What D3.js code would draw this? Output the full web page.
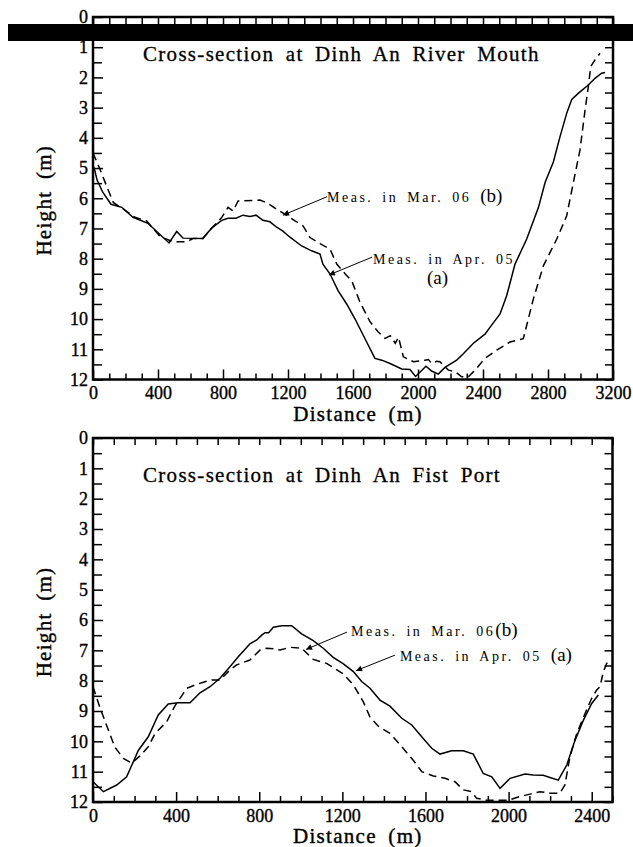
<!DOCTYPE html>
<html>
<head>
<meta charset="utf-8">
<script src="https://cdn.jsdelivr.net/npm/d3@7"></script>
<style>
  html, body { margin: 0; padding: 0; background: #fff; }
  svg { display: block; }
  svg text { font-family: "Liberation Serif", "DejaVu Serif", serif; fill: #000; }
  .tick text { font-size: 18px; stroke: #000; stroke-width: 0.35px; }
  .title { font-size: 21px; letter-spacing: 1.3px; word-spacing: 5px; stroke: #000; stroke-width: 0.3px; }
  .axis-label { font-size: 21px; letter-spacing: 1.3px; word-spacing: 5px; stroke: #000; stroke-width: 0.4px; }
  .note { font-size: 14px; letter-spacing: 2.5px; word-spacing: 3px; }
  .note-tag { font-size: 19px; letter-spacing: 0; word-spacing: 0; }
</style>
</head>
<body>
<svg id="chart" width="633" height="847"></svg>
<script>
// ---- Cross-section at Dinh An River Mouth: [distance (m), height (m)] ----
const mouthApr05 = [
  [0,4.9],[12,5.1],[25,5.4],[60,5.8],[111,6.2],[177,6.3],[246,6.63],[338,6.83],
  [412,7.2],[468,7.48],[515,7.1],[554,7.32],[675,7.33],[730,6.99],[792,6.73],
  [831,6.66],[880,6.66],[923,6.56],[966,6.6],[1003,6.56],[1046,6.73],[1089,6.78],
  [1130,6.96],[1167,7.08],[1212,7.29],[1284,7.58],[1345,7.74],[1397,7.85],
  [1415,8.18],[1458,8.5],[1508,9.06],[1561,9.5],[1612,9.99],[1674,10.65],
  [1735,11.3],[1777,11.36],[1828,11.47],[1900,11.65],[1951,11.67],[1985,11.9],
  [2049,11.56],[2084,11.72],[2125,11.82],[2166,11.6],[2238,11.36],[2279,11.15],
  [2341,10.8],[2412,10.5],[2460,10.15],[2505,9.83],[2546,9.22],[2597,8.18],
  [2669,7.35],[2741,6.31],[2782,5.48],[2833,4.8],[2874,3.96],[2915,3.19],
  [2946,2.73],[2986,2.53],[3048,2.25],[3089,2.03],[3130,1.86],[3151,1.84]
];
const mouthMar06 = [
  [0,4.5],[20,4.75],[43,5.04],[84,5.6],[125,6.14],[187,6.36],[258,6.63],[330,6.75],
  [412,7.26],[492,7.44],[576,7.44],[618,7.33],[677,7.33],[730,6.99],[792,6.64],
  [831,6.3],[862,6.42],[893,6.09],[1028,6.06],[1077,6.17],[1130,6.36],[1182,6.53],
  [1243,6.75],[1292,6.91],[1335,7.3],[1397,7.5],[1458,7.68],[1500,8.18],[1551,8.5],
  [1592,8.73],[1643,9.44],[1705,10.09],[1754,10.42],[1797,10.64],[1830,10.55],
  [1860,10.8],[1880,10.6],[1910,11.25],[1972,11.41],[2043,11.36],[2064,11.34],
  [2084,11.47],[2115,11.4],[2135,11.41],[2187,11.69],[2228,11.74],[2269,11.91],
  [2310,11.91],[2351,11.69],[2412,11.3],[2484,11.03],[2566,10.76],[2648,10.65],
  [2710,9.33],[2772,8.23],[2854,7.35],[2915,6.58],[2956,5.48],[2997,4.4],
  [3028,3.08],[3048,2.31],[3063,1.64],[3089,1.42],[3120,1.2]
];

// ---- Cross-section at Dinh An Fist Port: [distance (m), height (m)] ----
const portApr05 = [
  [0,11.33],[50,11.66],[114,11.44],[162,11.17],[218,10.3],[266,9.85],[314,9.13],
  [362,8.77],[410,8.73],[467,8.73],[515,8.4],[563,8.2],[611,7.92],[659,7.54],
  [699,7.21],[755,6.79],[788,6.66],[812,6.5],[828,6.42],[845,6.42],[868,6.24],
  [908,6.19],[956,6.19],[1004,6.46],[1060,6.68],[1108,6.93],[1156,7.23],
  [1205,7.45],[1253,7.7],[1293,8.03],[1333,8.25],[1381,8.64],[1429,8.84],
  [1486,9.24],[1534,9.46],[1582,9.85],[1630,10.23],[1670,10.42],[1726,10.31],
  [1782,10.31],[1830,10.42],[1878,11.06],[1919,11.17],[1959,11.55],[2007,11.22],
  [2079,11.08],[2119,11.11],[2167,11.12],[2199,11.19],[2239,11.28],[2280,10.78],
  [2320,9.96],[2360,9.3],[2400,8.75],[2432,8.47]
];
const portMar06 = [
  [0,8.2],[34,8.9],[74,9.63],[106,10.2],[146,10.56],[186,10.72],[226,10.48],
  [266,10.18],[298,9.75],[355,9.35],[395,8.82],[427,8.5],[451,8.25],[491,8.14],
  [531,8.05],[571,7.98],[611,7.98],[659,7.65],[691,7.48],[755,7.32],[804,6.99],
  [836,6.93],[868,6.95],[900,6.99],[948,6.9],[1004,6.93],[1060,7.3],[1124,7.43],
  [1205,7.78],[1253,8.14],[1301,8.7],[1333,9.2],[1373,9.5],[1429,9.74],
  [1486,10.18],[1541,10.62],[1582,11.0],[1638,11.14],[1694,11.22],[1742,11.33],
  [1782,11.6],[1822,11.66],[1846,11.88],[1895,11.94],[1959,11.94],[2000,11.94],
  [2039,11.85],[2103,11.74],[2151,11.66],[2199,11.71],[2247,11.71],[2271,11.44],
  [2295,10.51],[2328,9.74],[2368,9.08],[2400,8.58],[2424,8.31],[2440,8.2],
  [2456,7.7],[2472,7.43],[2490,7.3]
];

// ---- Tick labels ----
const mouthXTicks = [0, 400, 800, 1200, 1600, 2000, 2400, 2800, 3200];
const portXTicks  = [0, 400, 800, 1200, 1600, 2000, 2400];
const depthTicks  = [0, 1, 2, 3, 4, 5, 6, 7, 8, 9, 10, 11, 12];

const svg = d3.select("#chart");
svg.append("rect").attr("width", 633).attr("height", 847).attr("fill", "#fff");

const defs = svg.append("defs");
defs.append("marker")
  .attr("id", "arrowhead")
  .attr("viewBox", "0 0 10 10")
  .attr("refX", 10).attr("refY", 5)
  .attr("markerWidth", 7).attr("markerHeight", 6)
  .attr("markerUnits", "userSpaceOnUse")
  .attr("orient", "auto")
  .append("path").attr("d", "M0,0 L10,5 L0,10 Z").attr("fill", "#000");

function drawPanel(p) {
  const g = svg.append("g");
  const x = d3.scaleLinear().domain([0, p.xMax]).range([p.left, p.right]);
  const y = d3.scaleLinear().domain([0, 12]).range([p.top, p.bottom]);

  const hundreds = d3.range(0, p.xMax + 1, 100);
  const minorX = hundreds.filter(v => !p.xTicks.includes(v));
  const halves = d3.range(0, 12.01, 0.5);
  const minorY = halves.filter(v => !depthTicks.includes(v));

  const styleAxis = sel => {
    sel.select(".domain").remove();
    sel.selectAll(".tick line").attr("stroke-width", 1.5);
    sel.attr("font-family", null).attr("font-size", null);
  };

  // bottom axis: long ticks with labels every 400 m, short ticks every 100 m
  g.append("g").attr("transform", `translate(0,${p.bottom})`)
    .call(d3.axisBottom(x).tickValues(minorX).tickSize(-6).tickFormat(""))
    .call(styleAxis);
  g.append("g").attr("transform", `translate(0,${p.bottom})`)
    .call(d3.axisBottom(x).tickValues(p.xTicks).tickSize(-10).tickPadding(7).tickFormat(d3.format("d")))
    .call(styleAxis);
  // top axis
  g.append("g").attr("transform", `translate(0,${p.top})`)
    .call(d3.axisTop(x).tickValues(hundreds).tickSize(-7).tickFormat(""))
    .call(styleAxis);
  // left axis
  g.append("g").attr("transform", `translate(${p.left},0)`)
    .call(d3.axisLeft(y).tickValues(minorY).tickSize(-9).tickFormat(""))
    .call(styleAxis);
  g.append("g").attr("transform", `translate(${p.left},0)`)
    .call(d3.axisLeft(y).tickValues(depthTicks).tickSize(-10).tickPadding(5).tickFormat(d3.format("d")))
    .call(styleAxis);
  // right axis
  g.append("g").attr("transform", `translate(${p.right},0)`)
    .call(d3.axisRight(y).tickValues(halves).tickSize(-8).tickFormat(""))
    .call(styleAxis);

  // profiles
  const line = d3.line().x(d => x(d[0])).y(d => y(d[1]));
  g.append("path").datum(p.dashed).attr("d", line)
    .attr("fill", "none").attr("stroke", "#000").attr("stroke-width", 1.5)
    .attr("stroke-dasharray", "8,5");
  g.append("path").datum(p.solid).attr("d", line)
    .attr("fill", "none").attr("stroke", "#000").attr("stroke-width", 1.5);

  // frame
  g.append("rect")
    .attr("x", p.left).attr("y", p.top)
    .attr("width", p.right - p.left).attr("height", p.bottom - p.top)
    .attr("fill", "none").attr("stroke", "#000").attr("stroke-width", 2.5);

  // title
  g.append("text").attr("class", "title")
    .attr("x", p.left + 50).attr("y", p.top + 44)
    .text(p.title);

  // axis titles
  g.append("text").attr("class", "axis-label")
    .attr("text-anchor", "middle")
    .attr("x", (p.left + p.right) / 2 + 5).attr("y", p.bottom + 41)
    .text("Distance (m)");
  g.append("text").attr("class", "axis-label")
    .attr("text-anchor", "middle")
    .attr("transform", `translate(51,${(p.top + p.bottom) / 2 + 2}) rotate(-90)`)
    .text("Height (m)");

  // annotations: arrow from label to profile
  p.notes.forEach(n => {
    g.append("line")
      .attr("x1", x(n.tail[0])).attr("y1", y(n.tail[1]))
      .attr("x2", x(n.tip[0])).attr("y2", y(n.tip[1]))
      .attr("stroke", "#000").attr("stroke-width", 1)
      .attr("marker-end", "url(#arrowhead)");
    const t = g.append("text").attr("class", "note")
      .attr("x", x(n.at[0])).attr("y", y(n.at[1]));
    t.append("tspan").text(n.text);
    if (n.tag) t.append("tspan").attr("class", "note-tag").text(n.tag);
    if (n.tagBelow) {
      g.append("text").attr("class", "note-tag").attr("text-anchor", "middle")
        .attr("x", x(n.tagBelow.at[0])).attr("y", y(n.tagBelow.at[1]))
        .text(n.tagBelow.text);
    }
  });
}

drawPanel({
  left: 93, right: 613, top: 17, bottom: 379.5, xMax: 3200,
  xTicks: mouthXTicks,
  solid: mouthApr05, dashed: mouthMar06,
  title: "Cross-section at Dinh An River Mouth",
  notes: [
    { text: "Meas. in Mar. 06 ", tag: "(b)", at: [1440, 6.13], tail: [1440, 5.95], tip: [1169, 6.56] },
    { text: "Meas. in Apr. 05", at: [1723, 8.18], tail: [1717, 7.95], tip: [1452, 8.54],
      tagBelow: { text: "(a)", at: [2120, 8.84] } }
  ]
});

drawPanel({
  left: 93, right: 612.5, top: 438, bottom: 802, xMax: 2500,
  xTicks: portXTicks,
  solid: portApr05, dashed: portMar06,
  title: "Cross-section at Dinh An Fist Port",
  notes: [
    { text: "Meas. in Mar. 06", tag: "(b)", at: [1242, 6.53], tail: [1222, 6.4], tip: [1025, 6.97] },
    { text: "Meas. in Apr. 05 ", tag: "(a)", at: [1477, 7.35], tail: [1453, 7.16], tip: [1266, 7.67] }
  ]
});

// black band across the top of the upper frame
svg.append("rect")
  .attr("x", 8).attr("y", 24).attr("width", 625).attr("height", 17)
  .attr("fill", "#000");
</script>
</body>
</html>
